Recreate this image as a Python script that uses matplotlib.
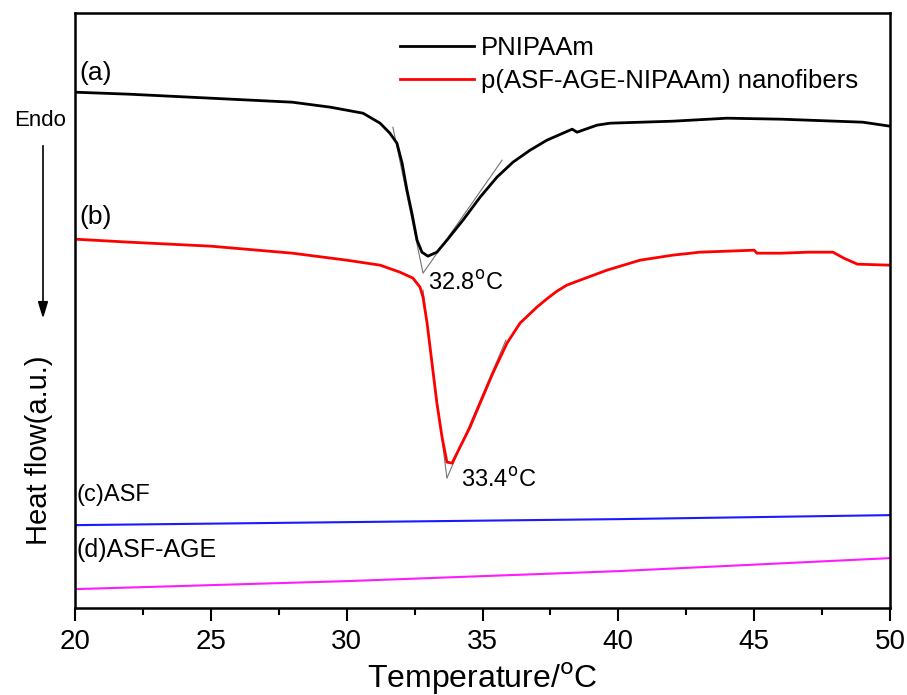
import numpy as np
import matplotlib.pyplot as plt
from matplotlib.ticker import MultipleLocator

# Heat flow (arbitrary units)
temp_a = [20, 22, 25, 28, 29.4, 30.6, 31.23, 31.59, 31.85, 32.04, 32.22, 32.4, 32.59, 32.77,
          32.99, 33.32, 33.69, 34.28, 34.91, 35.53, 36.12, 36.75, 37.37, 37.96, 38.3, 38.48,
          39.21, 39.69, 42, 44, 46, 48, 49, 50]
flow_a = [5.16, 5.14, 5.10, 5.06, 5.01, 4.95, 4.85, 4.75, 4.65, 4.45, 4.18, 3.95, 3.68, 3.56,
          3.52, 3.56, 3.68, 3.88, 4.11, 4.31, 4.46, 4.58, 4.68, 4.75, 4.79, 4.76,
          4.83, 4.85, 4.87, 4.90, 4.89, 4.87, 4.86, 4.82]

temp_b = [20, 22, 25, 28, 30, 31.23, 31.96, 32.44, 32.7, 32.81, 32.96, 33.14, 33.32, 33.51,
          33.69, 33.88, 34.17, 34.54, 34.91, 35.38, 35.9, 36.38, 37.0, 37.4, 37.74, 38.1, 38.59,
          39.58, 40.8, 42, 43, 44, 45, 45.1, 46, 47, 47.9, 48.3, 48.8, 50]
flow_b = [3.69, 3.66, 3.62, 3.55, 3.48, 3.43, 3.36, 3.30, 3.21, 3.11, 2.85, 2.45, 2.05, 1.71,
          1.46, 1.45, 1.61, 1.81, 2.05, 2.35, 2.65, 2.85, 3.01, 3.10, 3.17, 3.23, 3.28,
          3.38, 3.48, 3.53, 3.56, 3.57, 3.58, 3.55, 3.55, 3.56, 3.56, 3.50, 3.44, 3.43]

temp_c = [20, 30, 40, 50]
flow_c = [0.83, 0.86, 0.89, 0.93]

temp_d = [20, 30, 40, 50]
flow_d = [0.19, 0.27, 0.37, 0.50]

# onset tangent lines (start, tip, end)
tan_a_x = [31.7, 32.81, 35.72]
tan_a_y = [4.81, 3.35, 4.48]
tan_b_x = [32.81, 33.69, 35.86]
tan_b_y = [3.18, 1.30, 2.68]

plt.rcParams['font.family'] = ['Liberation Sans', 'DejaVu Sans']

fig = plt.figure(figsize=(9.07, 6.95), dpi=100)
ax = fig.add_axes([0.0827, 0.125, 0.8986, 0.856])

ax.plot(tan_a_x, tan_a_y, color="0.45", lw=0.8)
ax.plot(tan_b_x, tan_b_y, color="0.45", lw=0.8)
ax.plot(temp_a, flow_a, color="black", lw=2, label="PNIPAAm")
ax.plot(temp_b, flow_b, color="red", lw=2, label="p(ASF-AGE-NIPAAm) nanofibers")
ax.plot(temp_c, flow_c, color="#1a1aff", lw=1.5)
ax.plot(temp_d, flow_d, color="#ff1aff", lw=1.5)

ax.text(20.15, 5.35, "(a)", fontsize=19, va="center")
ax.text(20.15, 3.91, "(b)", fontsize=19, va="center")
ax.text(20.05, 1.13, "(c)ASF", fontsize=17, va="center")
ax.text(20.05, 0.58, "(d)ASF-AGE", fontsize=18, va="center")
ax.text(33.0, 3.25, "32.8$^\\mathrm{o}$C", fontsize=17, va="center")
ax.text(34.2, 1.28, "33.4$^\\mathrm{o}$C", fontsize=17, va="center")

ax.legend(loc="upper left", bbox_to_anchor=(0.37, 1.0), frameon=False, fontsize=18.5,
          handlelength=2.9, handletextpad=0.25, labelspacing=0.35)

ax.set_xlim(20, 50)
ax.set_ylim(0, 5.95)
ax.xaxis.set_major_locator(MultipleLocator(5))
ax.xaxis.set_minor_locator(MultipleLocator(2.5))
ax.set_yticks([])
ax.tick_params(axis="x", which="major", direction="out", length=9, width=1.5, labelsize=20, pad=6)
ax.tick_params(axis="x", which="minor", direction="out", length=5, width=1.5)
for sp in ax.spines.values():
    sp.set_linewidth(1.8)

ax.set_xlabel("Temperature/$^\\mathrm{o}$C", fontsize=23, labelpad=4)
ax.set_ylabel("Heat flow(a.u.)", fontsize=21)
ax.yaxis.set_label_coords(-0.027, 0.266)

fig.text(0.044, 0.827, "Endo", fontsize=16, ha="center", va="center")
fig.add_artist(plt.Line2D([0.0474, 0.0474], [0.79, 0.56], color="black", lw=1.2))
fig.patches.append(plt.Polygon([[0.0425, 0.566], [0.0523, 0.566], [0.0474, 0.545]],
                               closed=True, color="black", transform=fig.transFigure, figure=fig))

fig.savefig("out.png", dpi=100)
